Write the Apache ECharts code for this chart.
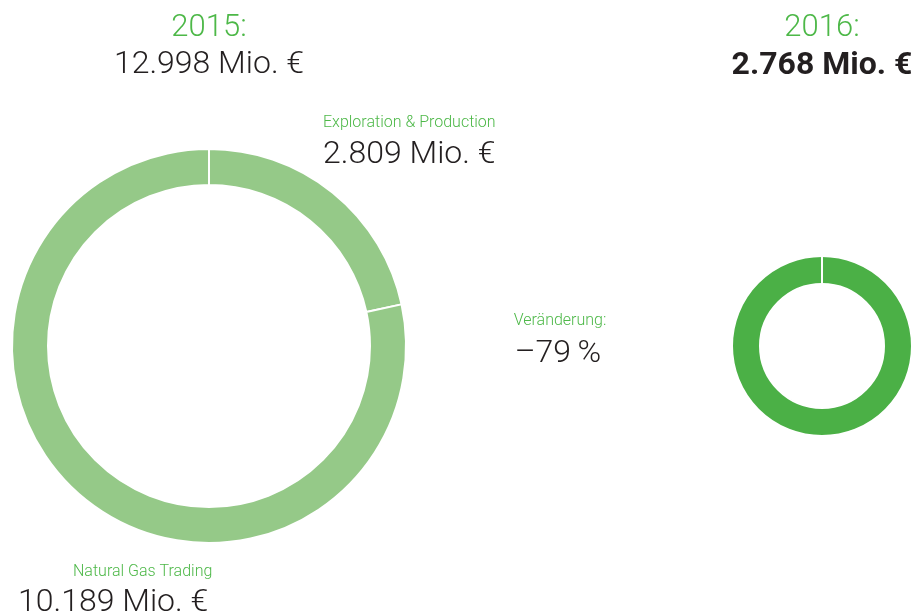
<!DOCTYPE html>
<html>
<head>
<meta charset="utf-8">
<script src="https://cdn.jsdelivr.net/npm/echarts@6/dist/echarts.min.js"></script>
<style>
  html, body { margin: 0; padding: 0; background: #fff; }
  #chart { width: 915px; height: 616px; }
</style>
</head>
<body>
<div id="chart"></div>
<script>
// Segment values in Mio. €
const segments2015 = ['Exploration & Production', 'Natural Gas Trading'];
const values2015 = [2809, 10189];
const segments2016 = ['Exploration & Production', 'Natural Gas Trading'];
const values2016 = [2768, 0];
const years = ['2015:', '2016:'];
const totals = ['12.998 Mio. €', '2.768 Mio. €'];
const segmentLabels = ['2.809 Mio. €', '10.189 Mio. €'];
const changeCaption = 'Veränderung:';
const changeValue = '–79\u2009%';

const GREEN = '#4db848';
const DARK = '#231f20';
const FONT = 'Roboto, "Liberation Sans", sans-serif';

const chart = echarts.init(document.getElementById('chart'), null, { renderer: 'canvas' });

function txt(x, y, text, size, color, align, weight) {
  return {
    type: 'text', x: x, y: y,
    style: {
      text: text, fontSize: size, fill: color, fontFamily: FONT,
      fontWeight: weight || 300, align: align || 'left', verticalAlign: 'middle'
    },
    silent: true
  };
}

chart.setOption({
  animation: false,
  series: [
    {
      type: 'pie',
      center: [209, 346],
      radius: [161, 197],
      startAngle: 90,
      clockwise: true,
      label: { show: false },
      labelLine: { show: false },
      itemStyle: { color: '#95c988', borderColor: '#fff', borderWidth: 2 },
      emphasis: { disabled: true },
      data: segments2015.map((n, i) => ({ name: n, value: values2015[i] }))
    },
    {
      type: 'pie',
      center: [822, 346],
      radius: [62, 90],
      startAngle: 90,
      clockwise: true,
      stillShowZeroSum: true,
      label: { show: false },
      labelLine: { show: false },
      itemStyle: { color: '#4bb046', borderColor: '#fff', borderWidth: 2 },
      emphasis: { disabled: true },
      data: segments2016.map((n, i) => ({ name: n, value: values2016[i] }))
    }
  ],
  graphic: [
    txt(209, 28, years[0], 31, GREEN, 'center'),
    txt(209, 65, totals[0], 32, DARK, 'center'),
    txt(822, 28, years[1], 31, GREEN, 'center'),
    txt(822, 66, totals[1], 32, DARK, 'center', 700),
    txt(323, 123, segments2015[0], 16, GREEN, 'left'),
    txt(323, 155, segmentLabels[0], 32, DARK, 'left'),
    txt(560, 321, changeCaption, 16, GREEN, 'center'),
    txt(558, 354, changeValue, 32, DARK, 'center'),
    txt(73, 572, segments2015[1], 16, GREEN, 'left'),
    txt(18, 603, segmentLabels[1], 32, DARK, 'left')
  ]
});
</script>
</body>
</html>
